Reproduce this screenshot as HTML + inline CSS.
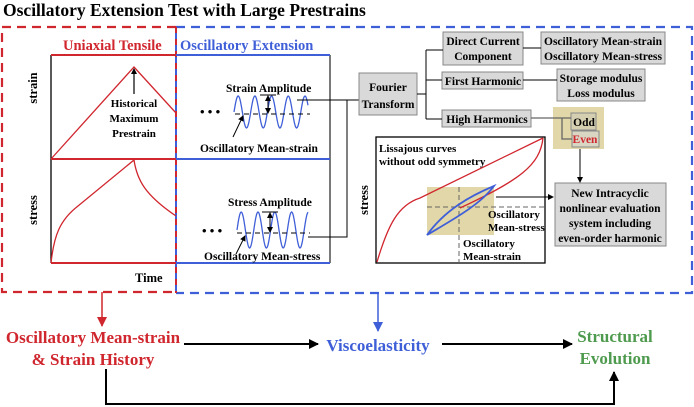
<!DOCTYPE html>
<html><head><meta charset="utf-8"><style>
html,body{margin:0;padding:0;background:#fff;}
svg{display:block;font-family:"Liberation Serif",serif;font-weight:bold;}
</style></head><body>
<svg id="s" width="694" height="407" viewBox="0 0 694 407" xmlns="http://www.w3.org/2000/svg">
<defs>
<marker id="ak" markerWidth="6" markerHeight="6" refX="5" refY="3" orient="auto" markerUnits="userSpaceOnUse"><path d="M0,0 L6,3 L0,6 z" fill="#000"/></marker>
<marker id="ab" markerWidth="10" markerHeight="10" refX="9" refY="5" orient="auto" markerUnits="userSpaceOnUse"><path d="M0,0 L10,5 L0,10 z" fill="#000"/></marker>
<marker id="ar" markerWidth="10" markerHeight="10" refX="9" refY="5" orient="auto" markerUnits="userSpaceOnUse"><path d="M0,0 L10,5 L0,10 z" fill="#d0262e"/></marker>
<marker id="abl" markerWidth="10" markerHeight="10" refX="9" refY="5" orient="auto" markerUnits="userSpaceOnUse"><path d="M0,0 L10,5 L0,10 z" fill="#3f5fd8"/></marker>
</defs>
<text x="3" y="16" font-size="17.5">Oscillatory Extension Test with Large Prestrains</text>

<path d="M176,27 H2 V292 H176" fill="none" stroke="#d0262e" stroke-width="2.2" stroke-dasharray="9,6"/>
<path d="M176,27 H692 V293 H176" fill="none" stroke="#3f5fd8" stroke-width="2.2" stroke-dasharray="9,6"/>
<line x1="176" y1="27" x2="176" y2="293" stroke="#3f5fd8" stroke-width="2"/>
<line x1="176" y1="27" x2="176" y2="293" stroke="#d0262e" stroke-width="2" stroke-dasharray="6,6"/>

<text x="63" y="50" font-size="14.5" fill="#d0262e">Uniaxial Tensile</text>
<text x="180" y="50" font-size="14.5" fill="#3f5fd8">Oscillatory Extension</text>

<line x1="51" y1="55" x2="51" y2="263" stroke="#000" stroke-width="1.3"/>
<line x1="330" y1="55" x2="330" y2="263" stroke="#333" stroke-width="1.3"/>
<g stroke-width="2">
<line x1="51" y1="55" x2="176" y2="55" stroke="#d0262e"/>
<line x1="51" y1="159" x2="176" y2="159" stroke="#d0262e"/>
<line x1="51" y1="263" x2="176" y2="263" stroke="#d0262e"/>
<line x1="176" y1="55" x2="330" y2="55" stroke="#3f5fd8"/>
<line x1="176" y1="159" x2="330" y2="159" stroke="#3f5fd8"/>
<line x1="176" y1="263" x2="330" y2="263" stroke="#3f5fd8"/>
</g>
<path d="M51,159 L134,67 L176,113" fill="none" stroke="#d0262e" stroke-width="1.3"/>
<path d="M51,263 C54,235 60,220 78,206 L134,160 C137,180 145,195 176,216" fill="none" stroke="#d0262e" stroke-width="1.3"/>
<line x1="134" y1="94" x2="134" y2="69" stroke="#000" stroke-width="1.2" marker-end="url(#ak)"/>
<g font-size="11" text-anchor="middle">
<text x="134" y="107">Historical</text>
<text x="134" y="122">Maximum</text>
<text x="134" y="137">Prestrain</text>
</g>
<text transform="translate(37,88) rotate(-90)" font-size="12.5" text-anchor="middle">strain</text>
<text transform="translate(37,210) rotate(-90)" font-size="12.5" text-anchor="middle">stress</text>
<text x="135" y="282" font-size="12.5">Time</text>

<text x="200" y="116" font-size="13">• • •</text>
<path id="sw1" fill="none" stroke="#3f5fd8" stroke-width="1.3"/>
<line x1="235" y1="114" x2="310" y2="114" stroke="#000" stroke-width="1" stroke-dasharray="5,4"/>
<line x1="260" y1="95" x2="276" y2="95" stroke="#000" stroke-width="1"/>
<line x1="268" y1="113" x2="268" y2="96" stroke="#000" stroke-width="1" marker-end="url(#ak)"/>
<line x1="268" y1="97" x2="268" y2="113" stroke="#000" stroke-width="1" marker-end="url(#ak)"/>
<line x1="233" y1="137" x2="243" y2="116" stroke="#000" stroke-width="1" marker-end="url(#ak)"/>
<text x="226" y="92" font-size="11.5">Strain  Amplitude</text>
<text x="200" y="152" font-size="11.5">Oscillatory Mean-strain</text>

<text x="202" y="235" font-size="13">• • •</text>
<path id="sw2" fill="none" stroke="#3f5fd8" stroke-width="1.3"/>
<line x1="237" y1="233" x2="310" y2="233" stroke="#000" stroke-width="1" stroke-dasharray="5,4"/>
<line x1="262" y1="212" x2="278" y2="212" stroke="#000" stroke-width="1"/>
<line x1="270" y1="232" x2="270" y2="213" stroke="#000" stroke-width="1" marker-end="url(#ak)"/>
<line x1="270" y1="214" x2="270" y2="232" stroke="#000" stroke-width="1" marker-end="url(#ak)"/>
<line x1="236" y1="254" x2="245" y2="236" stroke="#000" stroke-width="1" marker-end="url(#ak)"/>
<text x="228" y="206" font-size="11.5">Stress  Amplitude</text>
<text x="204" y="260" font-size="11.5">Oscillatory Mean-stress</text>

<path d="M297,100 H359 M308,237 H347 V100" fill="none" stroke="#000" stroke-width="1"/>

<g fill="#d9d9d9" stroke="#888" stroke-width="1">
<rect x="359" y="73" width="58" height="42"/>
<rect x="443" y="32" width="80" height="33"/>
<rect x="541" y="32" width="124" height="32"/>
<rect x="442" y="72" width="81" height="17"/>
<rect x="557" y="69" width="88" height="32"/>
<rect x="442" y="110" width="89" height="17"/>
<rect x="555" y="183" width="111" height="63"/>
</g>
<rect x="553" y="107" width="51" height="42" fill="#e2d7a8"/>
<rect x="571" y="113" width="25" height="17" fill="#d4cfb0" stroke="#888"/>
<rect x="572" y="131" width="27" height="16" fill="#d9d6c4" stroke="#888"/>

<path d="M417,94 H426 M426,50 V119 M426,50 H443 M426,80 H442 M426,119 H442 M523,48 H541 M523,80 H557" fill="none" stroke="#000" stroke-width="1"/>
<path d="M531,118 H571 M562,118 V139 H572" fill="none" stroke="#666" stroke-width="1.3"/>

<g font-size="11.5" text-anchor="middle">
<text x="388" y="91">Fourier</text>
<text x="388" y="108">Transform</text>
<text x="483" y="45">Direct Current</text>
<text x="483" y="60">Component</text>
<text x="603" y="45" textLength="118" lengthAdjust="spacingAndGlyphs">Oscillatory Mean-strain</text>
<text x="603" y="60" textLength="118" lengthAdjust="spacingAndGlyphs">Oscillatory Mean-stress</text>
<text x="483" y="85">First Harmonic</text>
<text x="601" y="82">Storage modulus</text>
<text x="601" y="97">Loss modulus</text>
<text x="487" y="123">High Harmonics</text>
<text x="584" y="126">Odd</text>
<text x="585" y="143" fill="#d0262e">Even</text>
<text x="610" y="197">New Intracyclic</text>
<text x="610" y="212">nonlinear evaluation</text>
<text x="610" y="227">system including</text>
<text x="610" y="242">even-order harmonic</text>
</g>
<line x1="580" y1="149" x2="580" y2="182" stroke="#000" stroke-width="1" marker-end="url(#ak)"/>

<rect x="376" y="137" width="169" height="126" fill="#fff" stroke="#000" stroke-width="1.3"/>
<rect x="427" y="187" width="67" height="48" fill="#e2d7a8"/>
<line x1="427" y1="207" x2="545" y2="207" stroke="#666" stroke-width="1" stroke-dasharray="5,3"/>
<line x1="459" y1="187" x2="459" y2="263" stroke="#666" stroke-width="1" stroke-dasharray="5,3"/>
<path d="M377,262 C388,225 398,205 420,198 L543,138" fill="none" stroke="#d0262e" stroke-width="1.3"/>
<path d="M543,138 C540,165 520,180 460,208" fill="none" stroke="#d0262e" stroke-width="1.3"/>
<path d="M427,235 C445,210 470,196 494,186 C480,205 452,220 427,235 z" fill="none" stroke="#3f5fd8" stroke-width="1.8"/>
<line x1="496" y1="197" x2="553" y2="197" stroke="#000" stroke-width="1" marker-end="url(#ak)"/>
<g font-size="11">
<text x="379" y="152">Lissajous curves</text>
<text x="379" y="165">without odd symmetry</text>
<text x="488" y="218">Oscillatory</text>
<text x="488" y="231">Mean-stress</text>
<text x="463" y="247">Oscillatory</text>
<text x="463" y="260">Mean-strain</text>
</g>
<text transform="translate(368,200) rotate(-90)" font-size="12.5" text-anchor="middle">stress</text>

<line x1="102" y1="292" x2="102" y2="326" stroke="#d0262e" stroke-width="1.5" marker-end="url(#ar)"/>
<line x1="378" y1="293" x2="378" y2="331" stroke="#3f5fd8" stroke-width="1.5" marker-end="url(#abl)"/>
<g font-size="17" text-anchor="middle">
<text x="93" y="343" fill="#d0262e">Oscillatory Mean-strain</text>
<text x="93" y="365" fill="#d0262e">&amp; Strain History</text>
<text x="378" y="351" fill="#3f5fd8">Viscoelasticity</text>
<text x="615" y="342" fill="#4e9a4e">Structural</text>
<text x="615" y="364" fill="#4e9a4e">Evolution</text>
</g>
<line x1="184" y1="344" x2="318" y2="344" stroke="#000" stroke-width="2" marker-end="url(#ab)"/>
<line x1="442" y1="344" x2="572" y2="344" stroke="#000" stroke-width="2" marker-end="url(#ab)"/>
<path d="M106,369 V404 H614 V372" fill="none" stroke="#000" stroke-width="2" marker-end="url(#ab)"/>
</svg>
<script>
function sw(id,x0,x1,cy,a,p){var d="";for(var x=x0;x<=x1;x+=0.5){var y=cy-a*Math.sin(2*Math.PI*(x-x0)/p);d+=(d?"L":"M")+x.toFixed(1)+","+y.toFixed(1);}document.getElementById(id).setAttribute("d",d);}
sw("sw1",234,308,112,16,16.7);
sw("sw2",237,308,230,18,16.8);
</script>
</body></html>
